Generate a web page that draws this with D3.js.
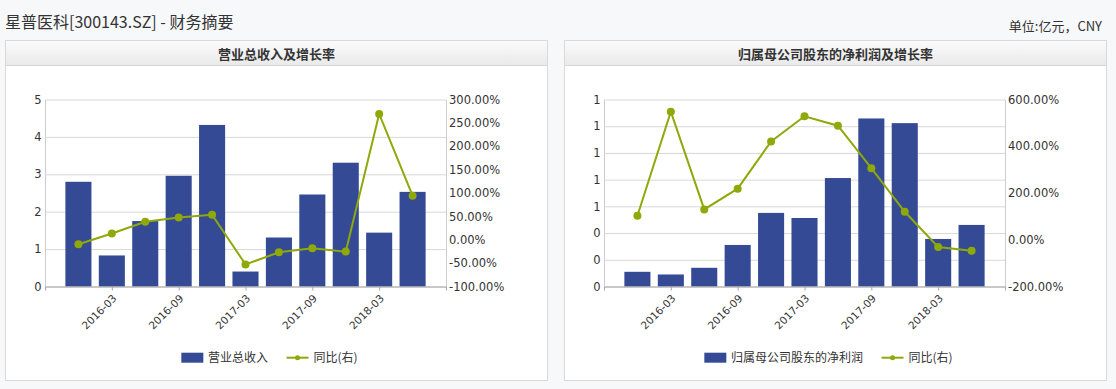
<!DOCTYPE html>
<html>
<head>
<meta charset="utf-8">
<script src="https://cdn.jsdelivr.net/npm/d3@7"></script>
<style>
    body { margin: 0; background: #f7f8fa; }
    svg { display: block; }
    .num { font-family: "DejaVu Sans", Verdana, sans-serif; }
    .cjk { font-family: "Noto Sans CJK SC", "Microsoft YaHei", sans-serif; }
</style>
</head>
<body>
<div id="wrapper"></div>
<script>
// Кварталы (ось X)
const quarters = ["2015-12", "2016-03", "2016-06", "2016-09", "2016-12", "2017-03",
                  "2017-06", "2017-09", "2017-12", "2018-03", "2018-06"];

// 营业总收入, 亿元
const revenue = [2.80, 0.83, 1.75, 2.96, 4.32, 0.40, 1.31, 2.46, 3.31, 1.44, 2.53];
// 同比, %
const revenueYoy = [-9.7, 13.3, 38.4, 47.7, 53.4, -52.7, -26.9, -18.3, -25.4, 269.0, 94.3];

// 归属母公司股东的净利润, 亿元
const profit = [0.110, 0.090, 0.140, 0.311, 0.551, 0.513, 0.812, 1.258, 1.223, 0.356, 0.461];
// 同比, %
const profitYoy = [102.5, 548.0, 129.7, 218.6, 420.8, 528.3, 488.0, 306.0, 119.7, -30.8, -46.6];

// Подписи осей
const revenueTicks = [0, 1, 2, 3, 4, 5];
const revenueYoyTicks = [-100, -50, 0, 50, 100, 150, 200, 250, 300];
const profitTicks = [0, 0.2, 0.4, 0.6, 0.8, 1.0, 1.2, 1.4];
const profitYoyTicks = [-200, 0, 200, 400, 600];

const barColor = "#344a94";
const lineColor = "#8fa80a";

const width = 1116, height = 389;

const svg = d3.select("#wrapper")
    .append("svg")
    .attr("width", width)
    .attr("height", height);

const defs = svg.append("defs");
const grad = defs.append("linearGradient")
    .attr("id", "headGrad")
    .attr("x1", 0).attr("y1", 0).attr("x2", 0).attr("y2", 1);
grad.append("stop").attr("offset", "0%").attr("stop-color", "#fbfbfb");
grad.append("stop").attr("offset", "100%").attr("stop-color", "#e9e9e9");

// Заголовок страницы
svg.append("text")
    .attr("class", "cjk")
    .attr("x", 5)
    .attr("y", 27.5)
    .style("font-size", "16px")
    .style("fill", "#333")
    .text("星普医科[300143.SZ] - 财务摘要");

svg.append("text")
    .attr("class", "cjk")
    .attr("x", 1102)
    .attr("y", 30.5)
    .style("font-size", "13px")
    .style("fill", "#333")
    .style("text-anchor", "end")
    .text("单位:亿元，CNY");

function drawPanel(opt) {
    const x0 = opt.left, y0 = 40.5, w = 542, h = 340;
    const g = svg.append("g");

    g.append("rect")
        .attr("x", x0).attr("y", y0)
        .attr("width", w).attr("height", h)
        .attr("fill", "#fff")
        .attr("stroke", "#d9d9d9");

    g.append("rect")
        .attr("x", x0 + 0.5).attr("y", y0 + 0.5)
        .attr("width", w - 1).attr("height", 24.5)
        .attr("fill", "url(#headGrad)");

    g.append("line")
        .attr("x1", x0).attr("x2", x0 + w)
        .attr("y1", y0 + 25).attr("y2", y0 + 25)
        .attr("stroke", "#d6d6d6");

    g.append("text")
        .attr("class", "cjk")
        .attr("x", x0 + w / 2)
        .attr("y", 58.5)
        .style("font-size", "13px")
        .style("font-weight", "bold")
        .style("fill", "#333")
        .style("text-anchor", "middle")
        .text(opt.title);

    const plot = { left: x0 + 39.5, right: x0 + 440.5, top: 99.5, bottom: 286.5 };

    const x = d3.scalePoint()
        .domain(quarters)
        .range([plot.left, plot.right])
        .padding(1);

    const yL = d3.scaleLinear().domain(opt.leftDomain).range([plot.bottom, plot.top]);
    const yR = d3.scaleLinear().domain(opt.rightDomain).range([plot.bottom, plot.top]);

    // левая ось + сетка
    const leftAxis = g.append("g")
        .attr("class", "num")
        .attr("transform", `translate(${plot.left},0)`)
        .call(d3.axisLeft(yL)
            .tickValues(opt.leftTicks)
            .tickFormat(d3.format(".0f"))
            .tickSizeInner(-(plot.right - plot.left))
            .tickSizeOuter(0)
            .tickPadding(3.5));
    leftAxis.select(".domain").attr("stroke", "#cccccc");
    leftAxis.selectAll(".tick line").attr("stroke", "#d8d8d8");
    leftAxis.selectAll(".tick text")
        .style("font-size", "11.5px")
        .style("font-family", "DejaVu Sans, Verdana, sans-serif")
        .attr("fill", "#333");

    // правая ось
    const rightAxis = g.append("g")
        .attr("class", "num")
        .attr("transform", `translate(${plot.right},0)`)
        .call(d3.axisRight(yR)
            .tickValues(opt.rightTicks)
            .tickFormat(d => d.toFixed(2) + "%")
            .tickSize(0)
            .tickPadding(3));
    rightAxis.select(".domain").attr("stroke", "#cccccc");
    rightAxis.selectAll(".tick text")
        .style("font-size", "11.5px")
        .style("font-family", "DejaVu Sans, Verdana, sans-serif")
        .attr("fill", "#333");

    // столбцы
    const bw = x.step() * 0.78;
    g.append("g")
        .selectAll("rect")
        .data(opt.bars)
        .enter()
        .append("rect")
        .attr("x", (d, i) => x(quarters[i]) - bw / 2)
        .attr("y", d => yL(d))
        .attr("width", bw)
        .attr("height", d => plot.bottom - yL(d))
        .attr("fill", barColor);

    // нижняя ось
    const bottomAxis = g.append("g")
        .attr("transform", `translate(0,${plot.bottom})`)
        .call(d3.axisBottom(x)
            .tickValues(quarters.filter((d, i) => i % 2 === 1))
            .tickSizeInner(4)
            .tickSizeOuter(4));
    bottomAxis.select(".domain").attr("stroke", "#a6a6a6");
    bottomAxis.selectAll(".tick line").attr("stroke", "#a6a6a6");
    bottomAxis.selectAll(".tick text")
        .attr("x", 0).attr("y", 0).attr("dy", 0)
        .attr("transform", "translate(5,12.5) rotate(-45)")
        .style("text-anchor", "end")
        .style("font-size", "10.5px")
        .style("font-family", "DejaVu Sans, Verdana, sans-serif")
        .attr("fill", "#333");

    // линия роста
    const line = d3.line()
        .x((d, i) => x(quarters[i]))
        .y(d => yR(d));

    g.append("path")
        .datum(opt.yoy)
        .attr("d", line)
        .attr("fill", "none")
        .attr("stroke", lineColor)
        .attr("stroke-width", 2);

    g.append("g")
        .selectAll("circle")
        .data(opt.yoy)
        .enter()
        .append("circle")
        .attr("cx", (d, i) => x(quarters[i]))
        .attr("cy", d => yR(d))
        .attr("r", 4)
        .attr("fill", lineColor);

    // легенда
    const legend = g.append("g");
    const ly = 357.7;
    const t1 = legend.append("text")
        .attr("class", "cjk")
        .attr("y", ly + 4.3)
        .style("font-size", "12px")
        .style("fill", "#333")
        .text(opt.barName);
    const t2 = legend.append("text")
        .attr("class", "cjk")
        .attr("y", ly + 4.3)
        .style("font-size", "12px")
        .style("fill", "#333")
        .text("同比(右)");
    const w1 = t1.node().getComputedTextLength();
    const w2 = t2.node().getComputedTextLength();
    const total = 22 + 4.7 + w1 + 18.5 + 22 + 5 + w2;
    let lx = x0 + w / 2 - total / 2 - 7;

    legend.append("rect")
        .attr("x", lx).attr("y", ly - 5)
        .attr("width", 22).attr("height", 10)
        .attr("fill", barColor);
    t1.attr("x", lx + 26.7);
    lx += 26.7 + w1 + 18.5;
    legend.append("line")
        .attr("x1", lx).attr("x2", lx + 22)
        .attr("y1", ly).attr("y2", ly)
        .attr("stroke", lineColor)
        .attr("stroke-width", 2);
    legend.append("circle")
        .attr("cx", lx + 11).attr("cy", ly)
        .attr("r", 2.5)
        .attr("fill", lineColor);
    t2.attr("x", lx + 27);
}

drawPanel({
    left: 5.5,
    title: "营业总收入及增长率",
    barName: "营业总收入",
    bars: revenue,
    yoy: revenueYoy,
    leftDomain: [0, 5],
    rightDomain: [-100, 300],
    leftTicks: revenueTicks,
    rightTicks: revenueYoyTicks
});

drawPanel({
    left: 564.5,
    title: "归属母公司股东的净利润及增长率",
    barName: "归属母公司股东的净利润",
    bars: profit,
    yoy: profitYoy,
    leftDomain: [0, 1.4],
    rightDomain: [-200, 600],
    leftTicks: profitTicks,
    rightTicks: profitYoyTicks
});
</script>
</body>
</html>
